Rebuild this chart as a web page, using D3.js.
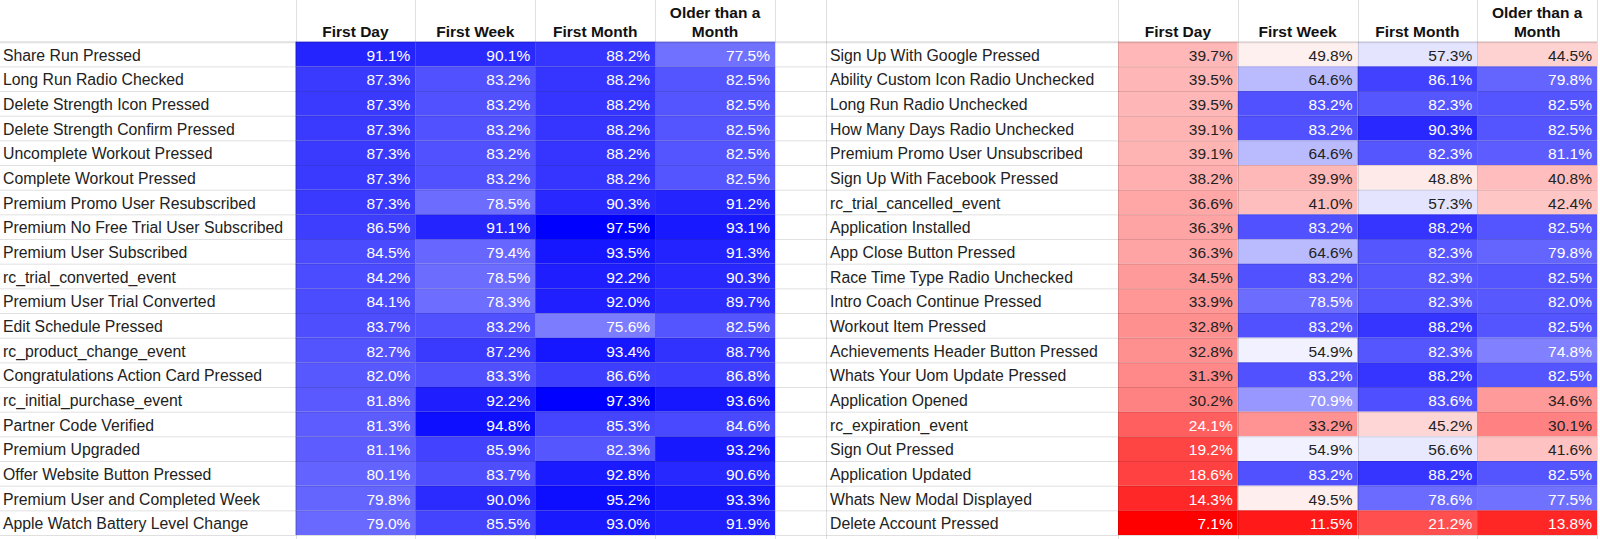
<!DOCTYPE html>
<html>
<head>
<meta charset="utf-8">
<script src="https://cdn.jsdelivr.net/npm/d3@7"></script>
<style>
  body { margin: 0; background: #fff; }
  svg { display: block; font-family: "Liberation Sans", Arial, sans-serif; }
</style>
</head>
<body>
<script>
const periods = ['First Day', 'First Week', 'First Month', 'Older than a Month']
const periodLines = [['First Day'], ['First Week'], ['First Month'], ['Older than a', 'Month']]

// left table: events with high retention
const leftEvents = [
  'Share Run Pressed', 'Long Run Radio Checked', 'Delete Strength Icon Pressed',
  'Delete Strength Confirm Pressed', 'Uncomplete Workout Pressed', 'Complete Workout Pressed',
  'Premium Promo User Resubscribed', 'Premium No Free Trial User Subscribed',
  'Premium User Subscribed', 'rc_trial_converted_event', 'Premium User Trial Converted',
  'Edit Schedule Pressed', 'rc_product_change_event', 'Congratulations Action Card Pressed',
  'rc_initial_purchase_event', 'Partner Code Verified', 'Premium Upgraded',
  'Offer Website Button Pressed', 'Premium User and Completed Week', 'Apple Watch Battery Level Change'
]
const leftValues = [
  [91.1, 90.1, 88.2, 77.5],
  [87.3, 83.2, 88.2, 82.5],
  [87.3, 83.2, 88.2, 82.5],
  [87.3, 83.2, 88.2, 82.5],
  [87.3, 83.2, 88.2, 82.5],
  [87.3, 83.2, 88.2, 82.5],
  [87.3, 78.5, 90.3, 91.2],
  [86.5, 91.1, 97.5, 93.1],
  [84.5, 79.4, 93.5, 91.3],
  [84.2, 78.5, 92.2, 90.3],
  [84.1, 78.3, 92.0, 89.7],
  [83.7, 83.2, 75.6, 82.5],
  [82.7, 87.2, 93.4, 88.7],
  [82.0, 83.3, 86.6, 86.8],
  [81.8, 92.2, 97.3, 93.6],
  [81.3, 94.8, 85.3, 84.6],
  [81.1, 85.9, 82.3, 93.2],
  [80.1, 83.7, 92.8, 90.6],
  [79.8, 90.0, 95.2, 93.3],
  [79.0, 85.5, 93.0, 91.9]
]

// right table: events with low first-day retention
const rightEvents = [
  'Sign Up With Google Pressed', 'Ability Custom Icon Radio Unchecked', 'Long Run Radio Unchecked',
  'How Many Days Radio Unchecked', 'Premium Promo User Unsubscribed', 'Sign Up With Facebook Pressed',
  'rc_trial_cancelled_event', 'Application Installed', 'App Close Button Pressed',
  'Race Time Type Radio Unchecked', 'Intro Coach Continue Pressed', 'Workout Item Pressed',
  'Achievements Header Button Pressed', 'Whats Your Uom Update Pressed', 'Application Opened',
  'rc_expiration_event', 'Sign Out Pressed', 'Application Updated', 'Whats New Modal Displayed',
  'Delete Account Pressed'
]
const rightValues = [
  [39.7, 49.8, 57.3, 44.5],
  [39.5, 64.6, 86.1, 79.8],
  [39.5, 83.2, 82.3, 82.5],
  [39.1, 83.2, 90.3, 82.5],
  [39.1, 64.6, 82.3, 81.1],
  [38.2, 39.9, 48.8, 40.8],
  [36.6, 41.0, 57.3, 42.4],
  [36.3, 83.2, 88.2, 82.5],
  [36.3, 64.6, 82.3, 79.8],
  [34.5, 83.2, 82.3, 82.5],
  [33.9, 78.5, 82.3, 82.0],
  [32.8, 83.2, 88.2, 82.5],
  [32.8, 54.9, 82.3, 74.8],
  [31.3, 83.2, 88.2, 82.5],
  [30.2, 70.9, 83.6, 34.6],
  [24.1, 33.2, 45.2, 30.1],
  [19.2, 54.9, 56.6, 41.6],
  [18.6, 83.2, 88.2, 82.5],
  [14.3, 49.5, 78.6, 77.5],
  [7.1, 11.5, 21.2, 13.8]
]

const colorStops = [7.1, 52.5, 97.5]

const width = 1600
const height = 539
const headerH = 41.7
const rowsBottom = 535
const gridColor = 'rgba(0,0,0,0.12)'
const textDark = '#222'

const svg = d3.select('body').append('svg')
    .attr('width', width)
    .attr('height', height)

const color = d3.scaleLinear()
    .domain(colorStops)
    .range(['#ff0000', '#ffffff', '#0000ff'])
    .clamp(true)

// pick white or dark text from the cell's luminance
const textColor = v => {
  const c = d3.rgb(color(v))
  const lin = x => {
    x = x / 255
    return x <= 0.03928 ? x / 12.92 : Math.pow((x + 0.055) / 1.055, 2.4)
  }
  const L = 0.2126 * lin(c.r) + 0.7152 * lin(c.g) + 0.0722 * lin(c.b)
  return L < 0.385 ? '#fff' : textDark
}

const y = d3.scaleBand()
    .domain(d3.range(leftEvents.length))
    .range([headerH, rowsBottom])

const drawTable = (events, values, labelX, colRange) => {
  const x = d3.scaleBand()
      .domain(periods)
      .range(colRange)

  const g = svg.append('g')

  const cells = values.flatMap((row, i) => row.map((v, j) => ({i, period: periods[j], v})))

  g.selectAll('rect.cell')
    .data(cells)
    .enter()
    .append('rect')
      .attr('class', 'cell')
      .attr('x', d => x(d.period))
      .attr('y', d => y(d.i))
      .attr('width', x.bandwidth())
      .attr('height', y.bandwidth())
      .attr('fill', d => color(d.v))

  g.selectAll('text.value')
    .data(cells)
    .enter()
    .append('text')
      .attr('class', 'value')
      .attr('x', d => x(d.period) + x.bandwidth() - 5)
      .attr('y', d => y(d.i) + 19)
      .attr('text-anchor', 'end')
      .attr('font-size', 15.5)
      .attr('fill', d => textColor(d.v))
      .text(d => d.v.toFixed(1) + '%')

  g.selectAll('text.label')
    .data(events)
    .enter()
    .append('text')
      .attr('class', 'label')
      .attr('x', labelX)
      .attr('y', (d, i) => y(i) + 19)
      .attr('font-size', 15.8)
      .attr('fill', textDark)
      .text(d => d)

  // column headers, bottom aligned and centred
  const header = g.selectAll('text.header')
    .data(periods)
    .enter()
    .append('text')
      .attr('class', 'header')
      .attr('text-anchor', 'middle')
      .attr('font-size', 15.5)
      .attr('font-weight', 'bold')
      .attr('fill', '#111')

  header.selectAll('tspan')
    .data((d, j) => periodLines[j].map((line, k, arr) => ({line, d, k, n: arr.length})))
    .enter()
    .append('tspan')
      .attr('x', t => x(t.d) + x.bandwidth() / 2)
      .attr('y', t => 36.7 - (t.n - 1 - t.k) * 19.2)
      .text(t => t.line)

  return x
}

const xLeft = drawTable(leftEvents, leftValues, 3, [295.5, 775])
const xRight = drawTable(rightEvents, rightValues, 830, [1118, 1597])

// grid lines on top of the cells
const grid = svg.append('g')
    .attr('stroke', gridColor)
    .attr('fill', 'none')

grid.selectAll('line.h')
  .data(d3.range(leftEvents.length + 1))
  .enter()
  .append('line')
    .attr('x1', 0)
    .attr('x2', 1597)
    .attr('y1', i => (i === leftEvents.length ? rowsBottom : y(i)) + 0.5)
    .attr('y2', i => (i === leftEvents.length ? rowsBottom : y(i)) + 0.5)
    .attr('stroke-width', i => i === 0 ? 2 : 1)

const vLines = [295.5, 825.5]
  .concat(xLeft.domain().map(p => xLeft(p) + xLeft.bandwidth()))
  .concat(xRight.domain().map(p => xRight(p)))
  .concat([1597])

grid.selectAll('line.v')
  .data(vLines)
  .enter()
  .append('line')
    .attr('x1', d => Math.round(d) + 0.5)
    .attr('x2', d => Math.round(d) + 0.5)
    .attr('y1', 0)
    .attr('y2', height)
</script>
</body>
</html>
